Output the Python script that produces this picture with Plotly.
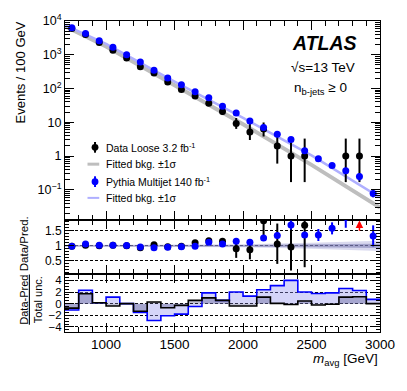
import plotly.graph_objects as go
from plotly.subplots import make_subplots

# ---------------- data ----------------
m_avg = [750, 850, 950, 1050, 1150, 1250, 1350, 1450, 1550, 1650, 1750, 1850,
         1950, 2050, 2150, 2250, 2350, 2450, 2550, 2650, 2750, 2850, 2950]
bin_halfwidth = 50

data_loose = [6000, 4000, 2300, 1350, 800, 440, 290, 155, 93, 60, 37, 21,
              9.3, 5.2, 6.3, 2.0, 1.0, 1.0, None, None, 1.0, 1.0, None]
data_err_up = [77, 63, 48, 37, 28, 21, 17, 12.5, 9.6, 7.7, 6.1, 4.6,
               4.1, 3.7, 3.6, 2.2, 2.3, 2.3, None, None, 2.3, 2.3, None]
data_err_dn = [77, 63, 48, 37, 28, 21, 17, 12.5, 9.6, 7.7, 6.1, 4.6,
               2.9, 2.2, 2.5, 1.4, 0.83, 0.83, None, None, 0.83, 0.83, None]

pythia = [6300, 4250, 2600, 1660, 1000, 610, 350, 205, 129, 80, 53, 30,
          19, 11, 7.0, 4.4, 3.1, 1.45, 0.83, 0.53, 0.37, 0.25, 0.078]
pythia_err = [0, 0, 0, 0, 0, 0, 0, 0, 0, 0, 0, 0,
              0, 0.3, 0.3, 0.3, 0.3, 0.12, 0.1, 0.07, 0.07, 0.06, 0.018]

fit_x = [700, 1000, 1500, 2000, 2500, 3000]
fit_data = [7000, 1750, 125, 8.8, 0.55, 0.03]
fit_pythia = [7600, 2100, 160, 13.5, 1.05, 0.06]

ratio_data = [0.99, 1.02, 1.00, 1.02, 1.00, 0.94, 1.04, 0.97, 0.99, 1.10, 1.17, 1.15,
              0.90, 0.87, 1.83, 1.06, 0.96, 1.68, None, None, None, None, None]
ratio_data_up = [0.02, 0.02, 0.02, 0.03, 0.03, 0.03, 0.04, 0.04, 0.05, 0.05, 0.08, 0.1,
                 0.3, 0.32, 0.5, 0.68, 0.73, 0.7, None, None, None, None, None]
ratio_data_dn = [0.02, 0.02, 0.02, 0.03, 0.03, 0.03, 0.04, 0.04, 0.05, 0.05, 0.08, 0.1,
                 0.3, 0.32, 0.5, 0.66, 0.78, 1.39, None, None, None, None, None]
ratio_offscale_x = [2850]

ratio_pythia = [0.99, 1.06, 1.02, 1.02, 1.01, 0.96, 0.94, 0.95, 0.97, 0.99, 1.12, 1.06,
                1.15, 1.12, 1.26, 1.34, 1.69, 1.36, 1.36, 1.58, 1.95, None, 1.33]
ratio_pythia_err = [0.01, 0.01, 0.01, 0.01, 0.01, 0.01, 0.01, 0.01, 0.01, 0.02, 0.02, 0.03,
                    0.04, 0.05, 0.06, 0.1, 0.15, 0.1, 0.2, 0.2, 0.35, None, 0.35]

band_x = [700, 1500, 2000, 2500, 3000]
band_inner = [0.02, 0.02, 0.03, 0.05, 0.07]
band_outer = [0.03, 0.03, 0.05, 0.1, 0.17]

signif_pythia = [-1.1, 2.3, 0.15, 1.13, 0.0, -1.5, -2.9, -2.07, -1.8, -0.5, 1.85, 0.57,
                 2.0, 1.3, 2.4, 3.1, 4.0, 2.0, 1.75, 1.85, 2.6, 2.25, 0.74]
signif_data = [-0.77, 1.7, 0.15, -0.4, 0.0, -1.3, 0.28, -0.7, -0.3, 0.57, 1.0, 0.57,
               -0.39, -0.39, 1.13, 0.05, -0.15, 0.45, -0.22, -0.1, 1.13, 1.2, 0.0]

# ---------------- geometry (window pixels) ----------------
W, H = 407, 391
PL, PR, PT, PB = 65, 387, 12, 332          # plot area in window pixels
ML, MR, MT, MB = PL, W - PR, PT, H - PB
FONT = "Liberation Sans, Arial, Helvetica, sans-serif"
DASH = "3px,2px"

def py2paper(py):
    return (PB - py) / (PB - PT)

def px2paper(px):
    return (px - PL) / (PR - PL)

fig = make_subplots(rows=3, cols=1, shared_xaxes=True, vertical_spacing=0)

# main panel
fig.add_trace(go.Scatter(x=fit_x, y=fit_data, mode="lines",
                         line=dict(color="rgb(190,190,190)", width=4),
                         showlegend=False), row=1, col=1)
fig.add_trace(go.Scatter(x=fit_x, y=fit_pythia, mode="lines",
                         line=dict(color="rgb(175,175,255)", width=2.5),
                         showlegend=False), row=1, col=1)
fig.add_trace(go.Scatter(x=m_avg, y=data_loose, mode="markers",
                         marker=dict(color="black", size=7),
                         error_y=dict(type="data", symmetric=False, array=data_err_up,
                                      arrayminus=data_err_dn, color="black",
                                      thickness=2, width=0),
                         showlegend=False), row=1, col=1)
fig.add_trace(go.Scatter(x=m_avg, y=pythia, mode="markers",
                         marker=dict(color="rgb(0,0,255)", size=7),
                         error_y=dict(type="data", array=pythia_err, color="rgb(0,0,255)",
                                      thickness=2, width=0),
                         showlegend=False), row=1, col=1)

# ratio panel bands
outer_lo = [1 - w for w in band_outer]
outer_hi = [1 + w for w in band_outer]
inner_lo = [1 - w for w in band_inner]
inner_hi = [1 + w for w in band_inner]
fig.add_trace(go.Scatter(x=band_x, y=outer_lo, mode="lines", line=dict(width=0),
                         showlegend=False, hoverinfo="skip"), row=2, col=1)
fig.add_trace(go.Scatter(x=band_x, y=outer_hi, mode="lines", line=dict(width=0),
                         fill="tonexty", fillcolor="rgba(170,170,220,0.45)",
                         showlegend=False, hoverinfo="skip"), row=2, col=1)
fig.add_trace(go.Scatter(x=band_x, y=inner_lo, mode="lines", line=dict(width=0),
                         showlegend=False, hoverinfo="skip"), row=2, col=1)
fig.add_trace(go.Scatter(x=band_x, y=inner_hi, mode="lines", line=dict(width=0),
                         fill="tonexty", fillcolor="rgba(110,110,170,0.5)",
                         showlegend=False, hoverinfo="skip"), row=2, col=1)

fig.add_trace(go.Scatter(x=m_avg, y=ratio_data, mode="markers",
                         marker=dict(color="black", size=7),
                         error_y=dict(type="data", symmetric=False, array=ratio_data_up,
                                      arrayminus=ratio_data_dn, color="black",
                                      thickness=2, width=0),
                         showlegend=False), row=2, col=1)
fig.add_trace(go.Scatter(x=m_avg, y=ratio_pythia, mode="markers",
                         marker=dict(color="rgb(0,0,255)", size=7),
                         error_y=dict(type="data", array=ratio_pythia_err,
                                      color="rgb(0,0,255)", thickness=2, width=0),
                         showlegend=False), row=2, col=1)

for xa in ratio_offscale_x:
    fig.add_annotation(x=xa, y=1.84, ax=xa, ay=1.45, xref="x2", yref="y2",
                       axref="x2", ayref="y2", text="", showarrow=True,
                       arrowhead=2, arrowsize=1, arrowwidth=1.5, arrowcolor="red")

# significance panel (step histograms)
edges_lo = [c - bin_halfwidth for c in m_avg]
step_x = edges_lo + [m_avg[-1] + bin_halfwidth]
fig.add_trace(go.Scatter(x=step_x, y=signif_pythia + [signif_pythia[-1]], mode="lines",
                         line=dict(color="rgb(0,0,255)", width=1.6, shape="hv"),
                         fill="tozeroy", fillcolor="rgba(150,150,240,0.4)",
                         showlegend=False), row=3, col=1)
fig.add_trace(go.Scatter(x=step_x, y=signif_data + [signif_data[-1]], mode="lines",
                         line=dict(color="black", width=1.6, shape="hv"),
                         fill="tozeroy", fillcolor="rgba(80,80,130,0.35)",
                         showlegend=False), row=3, col=1)

# ---------------- axes ----------------
d_main = [py2paper(216.7), 1.0]
d_ratio = [py2paper(272.3), py2paper(216.7)]
d_sig = [0.0, py2paper(272.3)]

common_x = dict(range=[700, 3000], showline=True, linecolor="black", linewidth=1,
                mirror="allticks", ticks="inside", ticklen=9, tickcolor="black",
                dtick=500, tick0=0,
                minor=dict(ticks="inside", ticklen=5, dtick=100, tickcolor="black"),
                showgrid=False, zeroline=False)
fig.update_xaxes(**common_x)
fig.update_xaxes(showticklabels=False, row=1, col=1)
fig.update_xaxes(showticklabels=False, row=2, col=1)
fig.update_xaxes(showticklabels=True, tickfont=dict(size=13.5, family=FONT, color="black"),
                 ticklabeloverflow="allow", row=3, col=1)

minor_log = [m * 10 ** e for e in range(-2, 4) for m in range(2, 10)]
fig.update_yaxes(type="log", range=[-1.89, 4.0], domain=d_main,
                 tickmode="array", tickvals=[0.1, 1, 10, 100, 1000, 10000],
                 ticktext=["10<sup>−1</sup>", "1", "10", "10<sup>2</sup>",
                           "10<sup>3</sup>", "10<sup>4</sup>"],
                 minor=dict(ticks="inside", ticklen=5, tickmode="array",
                            tickvals=minor_log, tickcolor="black"),
                 tickfont=dict(size=12.5, family=FONT, color="black"),
                 ticklabeloverflow="allow",
                 row=1, col=1)
fig.update_yaxes(range=[0.065, 1.86], domain=d_ratio,
                 tickmode="array", tickvals=[0.5, 1, 1.5], ticktext=["0.5", "1", "1.5"],
                 minor=dict(ticks="inside", ticklen=4, dtick=0.1, tick0=0, tickcolor="black"),
                 showgrid=True, gridcolor="black", griddash=DASH, gridwidth=0.8,
                 tickfont=dict(size=12, family=FONT, color="black"),
                 row=2, col=1)
fig.update_yaxes(range=[-4.87, 5.1], domain=d_sig,
                 tickmode="array", tickvals=[-4, -2, 0, 2, 4],
                 ticktext=["−4", "−2", "0", "2", "4"],
                 minor=dict(ticks="inside", ticklen=4, dtick=0.5, tick0=0, tickcolor="black"),
                 showgrid=True, gridcolor="black", griddash=DASH, gridwidth=0.8,
                 tickfont=dict(size=11.5, family=FONT, color="black"),
                 row=3, col=1)
fig.update_yaxes(showline=True, linecolor="black", linewidth=1, mirror="allticks",
                 ticks="inside", ticklen=9, tickcolor="black", zeroline=False)
fig.update_yaxes(showgrid=False, row=1, col=1)

# ---------------- texts ----------------
def ann(text, x, y, size, xanchor="left", yanchor="middle", angle=0):
    fig.add_annotation(text=text, x=x, y=y, xref="paper", yref="paper",
                       xanchor=xanchor, yanchor=yanchor, showarrow=False,
                       textangle=angle, font=dict(size=size, family=FONT, color="black"))

ann("<b><i>ATLAS</i></b>", px2paper(295), py2paper(35), 19.5)
ann("√s=13 TeV", px2paper(294), py2paper(60), 13.5)
ann("n<sub>b-jets</sub> ≥ 0", px2paper(297), py2paper(81), 13.5)

ann("Events / 100 GeV", px2paper(20), py2paper(65), 13, xanchor="center", angle=-90)
ann("Data/Pred.", px2paper(23), py2paper(240.7), 11.5, xanchor="center", angle=-90)
ann("<u>Data-Pred</u><br>Total unc.", px2paper(30), py2paper(299), 11, xanchor="center", angle=-90)
ann("<i>m</i><sub>avg</sub> [GeV]", 1.0, py2paper(360), 13.5, xanchor="right")

# legend (manual)
leg_rows = ["Data Loose 3.2 fb<sup>-1</sup>", "Fitted bkg. ±1σ",
            "Pythia Multijet 140 fb<sup>-1</sup>", "Fitted bkg. ±1σ"]
leg_y = [142, 159.3, 177.3, 194]
for t, yy in zip(leg_rows, leg_y):
    ann(t, px2paper(105), py2paper(yy), 10.5)

def pshape(**kw):
    fig.add_shape(xref="paper", yref="paper", **kw)

for yy, col in [(leg_y[0], "black"), (leg_y[2], "rgb(0,0,255)")]:
    pshape(type="line", x0=px2paper(95.7), x1=px2paper(95.7),
           y0=py2paper(yy - 5.5), y1=py2paper(yy + 5.5), line=dict(color=col, width=2))
    pshape(type="circle", x0=px2paper(92.2), x1=px2paper(99.2),
           y0=py2paper(yy + 3.5), y1=py2paper(yy - 3.5),
           fillcolor=col, line=dict(color=col, width=0))
pshape(type="line", x0=px2paper(88), x1=px2paper(100), y0=py2paper(leg_y[1]),
       y1=py2paper(leg_y[1]), line=dict(color="rgb(190,190,190)", width=3))
pshape(type="line", x0=px2paper(88), x1=px2paper(100), y0=py2paper(leg_y[3]),
       y1=py2paper(leg_y[3]), line=dict(color="rgb(175,175,255)", width=2))

fig.update_layout(width=W, height=H, margin=dict(l=ML, r=MR, t=MT, b=MB),
                  plot_bgcolor="white", paper_bgcolor="white",
                  font=dict(family=FONT, color="black"), showlegend=False)

fig.write_html("out.html", config={"displayModeBar": False},
               post_script="document.body.style.margin='0';"
                           "document.body.style.overflow='hidden';")
